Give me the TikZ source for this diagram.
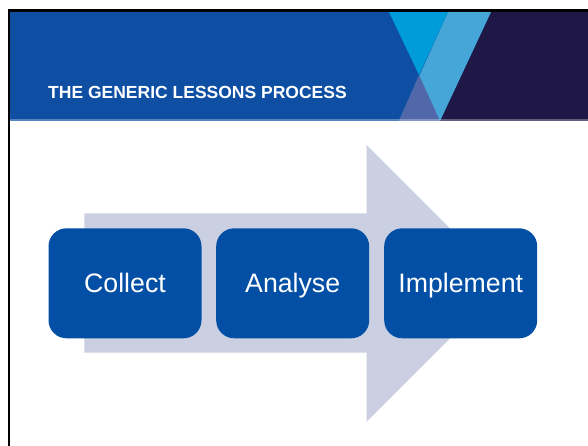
\documentclass[tikz,border=0pt]{standalone}
\usepackage{fontspec}
\setmainfont{Liberation Sans}
\definecolor{hdrblue}{HTML}{0E4FA3}
\definecolor{vcyan}{HTML}{009BD9}
\definecolor{vlight}{HTML}{45A6D7}
\definecolor{vpurple}{HTML}{5068AA}
\definecolor{vnavy}{HTML}{1F1746}
\definecolor{boxblue}{HTML}{034FA6}
\definecolor{arrowgrey}{HTML}{CAD0E1}
\tikzset{
  stepbox/.style={draw=none, fill=boxblue, rounded corners=18pt, minimum width=153pt, minimum height=110pt, inner sep=0pt, text=white, text height=19.1pt, text depth=0pt, font=\fontsize{26.7}{30}\selectfont},
  titletext/.style={text=white, font=\fontsize{17.5}{20}\selectfont\bfseries, inner sep=0pt, anchor=base west}
}
\begin{document}
\begin{tikzpicture}[x=1pt,y=-1pt]
\useasboundingbox (0,0) rectangle (588,446);
\fill[white] (0,0) rectangle (588,446);
% header
\fill[hdrblue] (10,12) rectangle (588,121);
\fill[vnavy] (491,12) -- (588,12) -- (588,121) -- (440,121) -- cycle;
\fill[vlight] (448,12) -- (491,12) -- (440,121) -- (399,121) -- cycle;
\fill[vcyan] (389,12) -- (448,12) -- (419,75) -- cycle;
\fill[vpurple] (419,75) -- (399,121) -- (440,121) -- cycle;
\fill[white, opacity=0.3] (10,119.5) rectangle (588,121);
% frame lines
\fill[black] (8,9.5) rectangle (588,12);
\fill[black] (8,9.5) rectangle (10,446);
\node[titletext] (title) at (48,99) {THE GENERIC LESSONS PROCESS};
% big arrow
\fill[arrowgrey] (84.3,213.3) -- (366.7,213.3) -- (366.7,145) -- (505,283.3) -- (366.7,421.7) -- (366.7,352.7) -- (84.3,352.7) -- cycle;
% steps
\node[stepbox] (collect) at (125,283.3) {Collect};
\node[stepbox] (analyse) at (292.7,283.3) {Analyse};
\node[stepbox] (implement) at (460.7,283.3) {Implement};
\end{tikzpicture}
\end{document}
